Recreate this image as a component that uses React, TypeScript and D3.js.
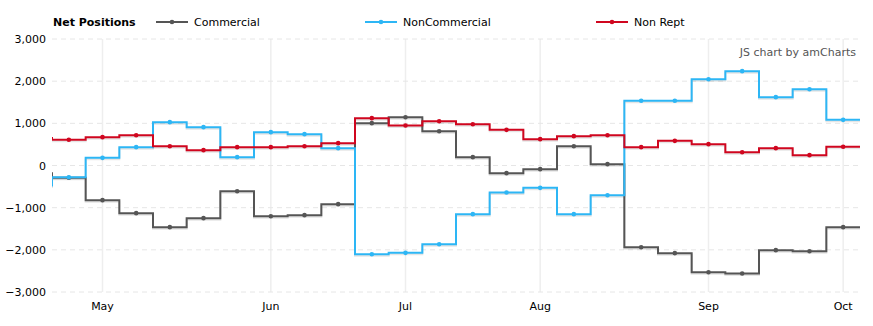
import React from "react";
import * as d3 from "d3";

const WIDTH = 873;
const HEIGHT = 326;

const startDate = "2017-04-25";
const prevDate = "2017-04-18";
const weekCount = 24;

const seriesNames = ["Commercial", "NonCommercial", "Non Rept"];
const seriesColors = ["#555555", "#2db6f5", "#d0061f"];

// value of the week before the visible range (shown only as the first vertical step)
const prevValues = [-160, -500, 675];

const commercial = [
  -292, -822, -1130, -1462, -1249, -609, -1202, -1178, -917, 1004, 1146, 814,
  198, -182, -87, 458, 32, -1937, -2079, -2530, -2561, -2008, -2032, -1462,
];
const nonCommercial = [
  -277, 182, 435, 1028, 909, 198, 791, 743, 411, -2103, -2071, -1866, -1154,
  -640, -530, -1154, -704, 1534, 1534, 2047, 2237, 1621, 1810, 1083,
];
const nonRept = [
  609, 672, 719, 458, 364, 435, 435, 458, 530, 1123, 949, 1051, 980, 846, 625,
  696, 719, 435, 585, 506, 316, 411, 245, 443,
];

const yTicks = [-3000, -2000, -1000, 0, 1000, 2000, 3000];

const parse = d3.timeParse("%Y-%m-%d");
const dates: Date[] = d3.range(weekCount).map((i) =>
  d3.timeDay.offset(parse(startDate) as Date, i * 7)
);

export default function App() {
  const left = 52;
  const right = 860;
  const top = 39;
  const bottom = 292;

  const x = d3
    .scaleBand<string>()
    .domain(dates.map((d) => d.toISOString()))
    .range([left, right])
    .padding(0);
  const bw = x.bandwidth();
  const y = d3.scaleLinear().domain([-3000, 3000]).range([bottom, top]);
  const fmt = d3.format(",");
  const monthFmt = d3.timeFormat("%b");

  const allSeries = [commercial, nonCommercial, nonRept];

  const line = d3
    .line<[number, number]>()
    .x((d) => d[0])
    .y((d) => d[1])
    .curve(d3.curveStepAfter);

  const pathFor = (vals: number[], prev: number) => {
    const pts: [number, number][] = [];
    pts.push([x(dates[0].toISOString()) as number, y(prev)]);
    vals.forEach((v, i) => {
      pts.push([x(dates[i].toISOString()) as number, y(v)]);
    });
    const last = vals.length - 1;
    pts.push([(x(dates[last].toISOString()) as number) + bw, y(vals[last])]);
    return line(pts) as string;
  };

  const monthTicks = dates
    .map((d, i) => ({ d, i }))
    .filter(({ d, i }) => i > 0 && d.getMonth() !== dates[i - 1].getMonth());

  const legendX = [156, 365, 596];

  const font = "'DejaVu Sans', Verdana, sans-serif";

  return (
    <div style={{ position: "absolute", left: 0, top: 0 }}>
      <svg width={WIDTH} height={HEIGHT} style={{ display: "block", fontFamily: font }}>
        <rect width={WIDTH} height={HEIGHT} fill="#ffffff" />
        {/* vertical month grid */}
        {monthTicks.map(({ d }) => {
          const cx = (x(d.toISOString()) as number) + bw / 2;
          return (
            <g key={d.toISOString()}>
              <line x1={cx} x2={cx} y1={top} y2={bottom} stroke="#eeeeee" strokeWidth={1.5} />
              <text x={cx} y={310} fontSize={11} textAnchor="middle" fill="#000">
                {monthFmt(d)}
              </text>
            </g>
          );
        })}
        {/* horizontal grid */}
        {yTicks.map((t) => (
          <g key={t}>
            <line
              x1={left}
              x2={right}
              y1={y(t)}
              y2={y(t)}
              stroke="#e6e6e6"
              strokeWidth={1}
              strokeDasharray="5,4"
            />
            <text x={46} y={y(t) + 4} fontSize={11} textAnchor="end" fill="#000">
              {fmt(t)}
            </text>
          </g>
        ))}
        <defs>
          <clipPath id="plotClip">
            <rect x={left} y={0} width={right - left} height={HEIGHT} />
          </clipPath>
        </defs>
        <g clipPath="url(#plotClip)">
          {allSeries.map((vals, si) => (
            <path
              key={"s" + si}
              d={pathFor(vals, prevValues[si])}
              fill="none"
              stroke="#000"
              strokeOpacity={0.1}
              strokeWidth={2}
              transform="translate(0,1.5)"
            />
          ))}
          {allSeries.map((vals, si) => (
            <g key={si}>
              <path
                d={pathFor(vals, prevValues[si])}
                fill="none"
                stroke={seriesColors[si]}
                strokeWidth={2}
              />
              {vals.map((v, i) => (
                <circle
                  key={i}
                  cx={(x(dates[i].toISOString()) as number) + bw / 2}
                  cy={y(v)}
                  r={2.3}
                  fill={seriesColors[si]}
                />
              ))}
            </g>
          ))}
        </g>
        {/* legend */}
        <text x={53} y={26} fontSize={11} fontWeight="bold" fill="#000">
          Net Positions
        </text>
        {seriesNames.map((name, si) => (
          <g key={name}>
            <line
              x1={legendX[si]}
              x2={legendX[si] + 32}
              y1={22}
              y2={22}
              stroke={seriesColors[si]}
              strokeWidth={2}
            />
            <circle cx={legendX[si] + 16} cy={22} r={2.3} fill={seriesColors[si]} />
            <text x={legendX[si] + 38} y={26} fontSize={11} fill="#000">
              {name}
            </text>
          </g>
        ))}
        <text x={856} y={56} fontSize={11} textAnchor="end" fill="#555">
          JS chart by amCharts
        </text>
      </svg>
    </div>
  );
}
